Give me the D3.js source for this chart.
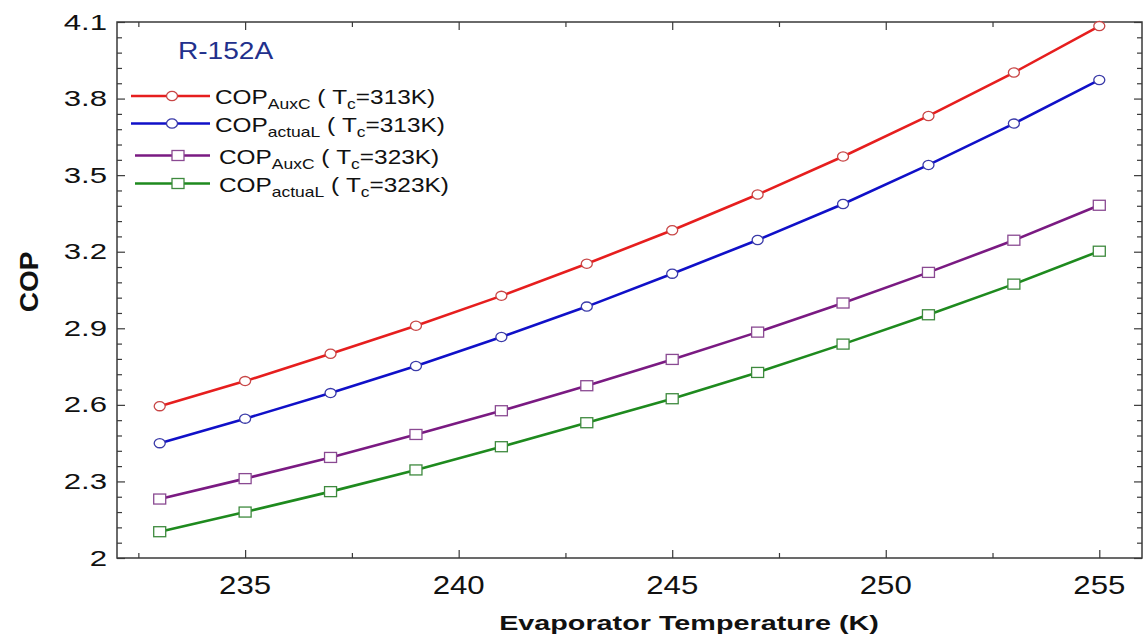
<!DOCTYPE html>
<html>
<head>
<meta charset="utf-8">
<script src="https://cdn.jsdelivr.net/npm/d3@7"></script>
<style>
  html, body { margin: 0; padding: 0; background: #ffffff; }
  svg { display: block; }
  text { font-family: "Liberation Sans", Arial, sans-serif; }
</style>
</head>
<body>
<svg id="chart" width="1146" height="639"></svg>
<script>
// Evaporator temperature (K)
const evapTemps = [233, 235, 237, 239, 241, 243, 245, 247, 249, 251, 253, 255];

// COP series
const copAuxC313 = [2.595, 2.693, 2.800, 2.910, 3.027, 3.153, 3.284, 3.424, 3.573, 3.732, 3.902, 4.084];
const copActualL313 = [2.450, 2.546, 2.646, 2.752, 2.866, 2.985, 3.114, 3.246, 3.387, 3.540, 3.702, 3.873];
const copAuxC323 = [2.231, 2.311, 2.394, 2.484, 2.577, 2.675, 2.778, 2.885, 2.999, 3.119, 3.245, 3.382];
const copActualL323 = [2.103, 2.180, 2.260, 2.345, 2.436, 2.530, 2.624, 2.727, 2.838, 2.953, 3.073, 3.202];

// Axis ticks
const xTickValues = [235, 240, 245, 250, 255];
const yTickValues = [2, 2.3, 2.6, 2.9, 3.2, 3.5, 3.8, 4.1];
const yTickLabels = ["2", "2.3", "2.6", "2.9", "3.2", "3.5", "3.8", "4.1"];

// Series descriptors (legend labels)
const seriesNames = ["AuxC", "actuaL", "AuxC", "actuaL"];
const seriesTc = ["313K", "313K", "323K", "323K"];

const svg = d3.select("#chart");
const plot = { left: 117, right: 1142, top: 22, bottom: 558 };

const x = d3.scaleLinear().domain([232, 256]).range([plot.left, plot.right]);
const y = d3.scaleLinear().domain([2, 4.1]).range([plot.bottom, plot.top]);

const frameColor = "#3a3a3a";

// Minor/major tick sets
const xMinor = d3.range(232.5, 256, 2.5).filter(v => !xTickValues.includes(v));
const yMinor = d3.range(0, 36).map(i => +(2 + i * 0.06).toFixed(2))
  .filter(v => v < 4.1 && !yTickValues.some(t => Math.abs(t - v) < 1e-6));

function styleAxis(g) {
  g.select(".domain").remove();
  g.selectAll(".tick line").attr("stroke", frameColor).attr("stroke-width", 1.2);
}

// Bottom axis (ticks pointing inward)
svg.append("g").attr("transform", `translate(0,${plot.bottom})`)
  .call(d3.axisBottom(x).tickValues(xTickValues).tickSizeInner(-8).tickSizeOuter(0).tickFormat(""))
  .call(styleAxis);
svg.append("g").attr("transform", `translate(0,${plot.bottom})`)
  .call(d3.axisBottom(x).tickValues(xMinor).tickSizeInner(-5).tickSizeOuter(0).tickFormat(""))
  .call(styleAxis);
// Top axis mirror
svg.append("g").attr("transform", `translate(0,${plot.top})`)
  .call(d3.axisTop(x).tickValues(xTickValues).tickSizeInner(-8).tickSizeOuter(0).tickFormat(""))
  .call(styleAxis);
svg.append("g").attr("transform", `translate(0,${plot.top})`)
  .call(d3.axisTop(x).tickValues(xMinor).tickSizeInner(-5).tickSizeOuter(0).tickFormat(""))
  .call(styleAxis);
// Left axis
svg.append("g").attr("transform", `translate(${plot.left},0)`)
  .call(d3.axisLeft(y).tickValues(yTickValues).tickSizeInner(-8).tickSizeOuter(0).tickFormat(""))
  .call(styleAxis);
svg.append("g").attr("transform", `translate(${plot.left},0)`)
  .call(d3.axisLeft(y).tickValues(yMinor).tickSizeInner(-5).tickSizeOuter(0).tickFormat(""))
  .call(styleAxis);
// Right axis mirror
svg.append("g").attr("transform", `translate(${plot.right},0)`)
  .call(d3.axisRight(y).tickValues(yTickValues).tickSizeInner(-8).tickSizeOuter(0).tickFormat(""))
  .call(styleAxis);
svg.append("g").attr("transform", `translate(${plot.right},0)`)
  .call(d3.axisRight(y).tickValues(yMinor).tickSizeInner(-5).tickSizeOuter(0).tickFormat(""))
  .call(styleAxis);

// Frame
svg.append("rect")
  .attr("x", plot.left).attr("y", plot.top)
  .attr("width", plot.right - plot.left).attr("height", plot.bottom - plot.top)
  .attr("fill", "none").attr("stroke", frameColor).attr("stroke-width", 1.5);

// X tick labels
xTickValues.forEach(v => {
  svg.append("g").attr("transform", `translate(${x(v)},594) scale(1.2,1)`)
    .append("text").attr("text-anchor", "middle")
    .attr("font-size", 26).attr("fill", "#111").text(v);
});

// Y tick labels
yTickValues.forEach((v, i) => {
  svg.append("g").attr("transform", `translate(107,${y(v) + 7.5}) scale(1.45,1)`)
    .append("text").attr("text-anchor", "end")
    .attr("font-size", 21.5).attr("fill", "#111").text(yTickLabels[i]);
});

// Axis titles
svg.append("g").attr("transform", `translate(689,630) scale(1.37,1)`)
  .append("text").attr("text-anchor", "middle").attr("font-weight", "bold")
  .attr("font-size", 21).attr("fill", "#111").text("Evaporator Temperature (K)");
svg.append("g").attr("transform", `translate(37.5,282) rotate(-90) scale(1.12,1)`)
  .append("text").attr("text-anchor", "middle").attr("font-weight", "bold")
  .attr("font-size", 25).attr("fill", "#111").text("COP");

// Series
const series = [
  { values: copAuxC313, line: "#e61e1e", mark: "#c84646", shape: "circle" },
  { values: copActualL313, line: "#1010c8", mark: "#3a3aa8", shape: "circle" },
  { values: copAuxC323, line: "#7a1a82", mark: "#8a4a92", shape: "square" },
  { values: copActualL323, line: "#1e8a1e", mark: "#3e8a3e", shape: "square" }
];

const lineGen = d3.line().x(d => x(d[0])).y(d => y(d[1]));

function drawMarker(g, shape, cx, cy, color) {
  if (shape === "circle") {
    g.append("ellipse").attr("cx", cx).attr("cy", cy).attr("rx", 5.5).attr("ry", 4.6)
      .attr("fill", "#fff").attr("stroke", color).attr("stroke-width", 1.3);
  } else {
    g.append("rect").attr("x", cx - 6).attr("y", cy - 5).attr("width", 12).attr("height", 10)
      .attr("fill", "#fff").attr("stroke", color).attr("stroke-width", 1.3);
  }
}

series.forEach(s => {
  const pts = evapTemps.map((t, i) => [t, s.values[i]]);
  svg.append("path").datum(pts).attr("d", lineGen)
    .attr("fill", "none").attr("stroke", s.line).attr("stroke-width", 2.6);
  const g = svg.append("g");
  pts.forEach(p => drawMarker(g, s.shape, x(p[0]), y(p[1]), s.mark));
});

// Refrigerant label
svg.append("g").attr("transform", `translate(178,59) scale(1.17,1)`)
  .append("text").attr("font-size", 24).attr("fill", "#22308c").text("R-152A");

// Legend
const legendRows = [
  { y: 96, x0: 131, x1: 210, mx: 172, tx: 215 },
  { y: 123.5, x0: 131, x1: 210, mx: 172, tx: 215 },
  { y: 155.5, x0: 135, x1: 210, mx: 178, tx: 219 },
  { y: 183.5, x0: 135, x1: 210, mx: 178, tx: 219 }
];

series.forEach((s, i) => {
  const r = legendRows[i];
  svg.append("line").attr("x1", r.x0).attr("x2", r.x1).attr("y1", r.y).attr("y2", r.y)
    .attr("stroke", s.line).attr("stroke-width", 2.6);
  drawMarker(svg, s.shape, r.mx, r.y, s.mark);
  const t = svg.append("g").attr("transform", `translate(${r.tx},${r.y + 8}) scale(1.25,1)`)
    .append("text").attr("font-size", 19.5).attr("fill", "#111");
  t.append("tspan").text("COP");
  t.append("tspan").attr("font-size", 14).attr("dy", 5).text(seriesNames[i]);
  t.append("tspan").attr("dy", -5).text("\u00a0(\u00a0T");
  t.append("tspan").attr("font-size", 14).attr("dy", 5).text("c");
  t.append("tspan").attr("dy", -5).text("=" + seriesTc[i] + ")");
});
</script>
</body>
</html>
